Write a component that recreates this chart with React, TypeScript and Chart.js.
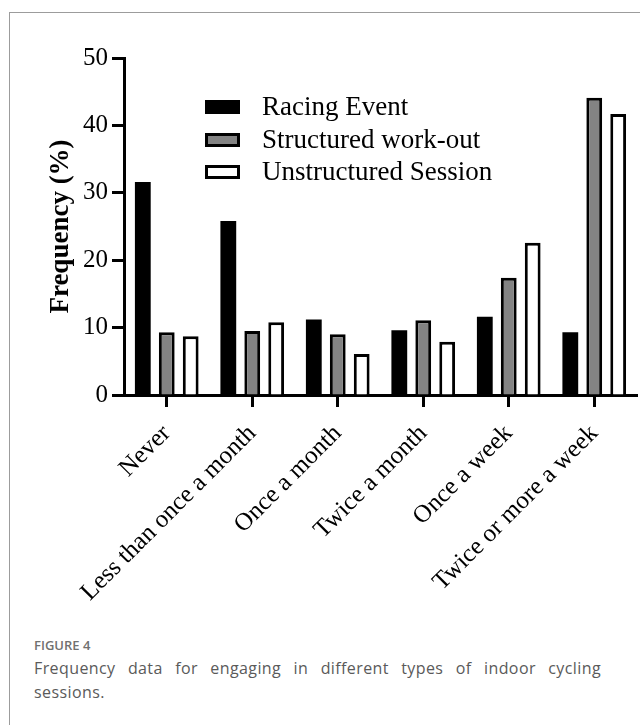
import React, { useEffect, useRef } from "react";
import { Chart, registerables } from "chart.js";

Chart.register(...registerables);

const categories = [
  "Never",
  "Less than once a month",
  "Once a month",
  "Twice a month",
  "Once a week",
  "Twice or more a week",
];
const seriesNames = ["Racing Event", "Structured work-out", "Unstructured Session"];
const racingEvent = [31.6, 25.8, 11.2, 9.6, 11.6, 9.3];
const structuredWorkout = [9.3, 9.5, 9.0, 11.1, 17.4, 44.1];
const unstructuredSession = [8.7, 10.8, 6.1, 7.9, 22.6, 41.7];
const yTickValues = [0, 10, 20, 30, 40, 50];
const yTitle = "Frequency (%)";
const captionLabel = "FIGURE 4";
const captionText =
  "Frequency data for engaging in different types of indoor cycling sessions.";

const SERIF = "'Liberation Serif', 'Times New Roman', serif";
const GRAY = "#838383";

const legendPlugin = {
  id: "insideLegend",
  afterDraw(chart: any) {
    const ctx = chart.ctx;
    const ds = chart.data.datasets;
    const boxX = 205;
    const boxW = 35;
    const boxH = 14;
    const rows = [107, 140, 172];
    ctx.save();
    ctx.font = `27px ${SERIF}`;
    ctx.textBaseline = "middle";
    ctx.textAlign = "left";
    ds.forEach((d: any, i: number) => {
      const cy = rows[i];
      ctx.fillStyle = "#000";
      ctx.fillRect(boxX, cy - boxH / 2, boxW, boxH);
      if (d.backgroundColor !== "#000") {
        ctx.fillStyle = d.backgroundColor;
        ctx.fillRect(boxX + 3, cy - boxH / 2 + 3, boxW - 6, boxH - 6);
      }
      ctx.fillStyle = "#000";
      ctx.fillText(d.label, 262, cy + 1);
    });
    ctx.restore();
  },
};

export default function App() {
  const canvasRef = useRef<HTMLCanvasElement | null>(null);

  useEffect(() => {
    const canvas = canvasRef.current;
    if (!canvas) return;
    const chart = new Chart(canvas, {
      type: "bar",
      data: {
        labels: categories,
        datasets: [
          {
            label: seriesNames[0],
            data: racingEvent,
            backgroundColor: "#000",
            borderColor: "#000",
            borderWidth: 0,
          },
          {
            label: seriesNames[1],
            data: structuredWorkout,
            backgroundColor: GRAY,
            borderColor: "#000",
            borderWidth: 3,
          },
          {
            label: seriesNames[2],
            data: unstructuredSession,
            backgroundColor: "#fff",
            borderColor: "#000",
            borderWidth: 3,
          },
        ],
      },
      options: {
        animation: false,
        responsive: false,
        maintainAspectRatio: false,
        devicePixelRatio: 1,
        categoryPercentage: 0.84,
        barPercentage: 0.66,
        layout: { padding: { top: 58, right: 3, left: 0, bottom: 0 } },
        plugins: {
          legend: { display: false },
          tooltip: { enabled: false },
        },
        scales: {
          x: {
            type: "category",
            offset: true,
            grid: {
              display: true,
              offset: false,
              drawOnChartArea: false,
              drawTicks: true,
              tickLength: 12,
              tickWidth: 3,
              tickColor: "#000",
            },
            border: { display: true, color: "#000", width: 3 },
            ticks: {
              color: "#000",
              font: { family: SERIF, size: 25 },
              minRotation: 45,
              maxRotation: 45,
              autoSkip: false,
              padding: 12,
            },
            afterFit: (s: any) => {
              s.height = 225;
            },
          },
          y: {
            min: 0,
            max: 50,
            afterBuildTicks: (axis: any) => {
              axis.ticks = yTickValues.map((v) => ({ value: v }));
            },
            grid: {
              display: true,
              drawOnChartArea: false,
              drawTicks: true,
              tickLength: 12,
              tickWidth: 3,
              tickColor: "#000",
            },
            border: { display: true, color: "#000", width: 3 },
            ticks: {
              color: "#000",
              font: { family: SERIF, size: 25 },
              padding: 4,
            },
            title: {
              display: true,
              text: yTitle,
              color: "#000",
              font: { family: SERIF, size: 27, weight: "bold" },
              padding: { top: 45, bottom: 0 },
            },
            afterFit: (s: any) => {
              s.width = 124;
            },
          },
        },
      },
      plugins: [legendPlugin],
    });
    return () => chart.destroy();
  }, []);

  return (
    <div
      style={{
        position: "absolute",
        left: 0,
        top: 0,
        width: 640,
        height: 725,
        background: "#fff",
        overflow: "hidden",
      }}
    >
      <div
        style={{
          position: "absolute",
          left: 9,
          top: 12,
          width: 700,
          height: 800,
          borderTop: "1px solid #9c9c9c",
          borderLeft: "1px solid #9c9c9c",
        }}
      />
      <canvas
        ref={canvasRef}
        width={640}
        height={620}
        style={{ position: "absolute", left: 0, top: 0, width: 640, height: 620 }}
      />
      <div
        style={{
          position: "absolute",
          left: 34,
          top: 634,
          width: 567,
          fontFamily: "'Open Sans', 'Noto Sans', sans-serif",
          color: "#5a5a5a",
        }}
      >
        <div style={{ fontSize: 13, fontWeight: 600, color: "#707070", lineHeight: "22px" }}>
          {captionLabel}
        </div>
        <div
          style={{
            fontSize: 16,
            letterSpacing: "0.4px",
            lineHeight: "24px",
            textAlign: "justify",
          }}
        >
          {captionText}
        </div>
      </div>
    </div>
  );
}
